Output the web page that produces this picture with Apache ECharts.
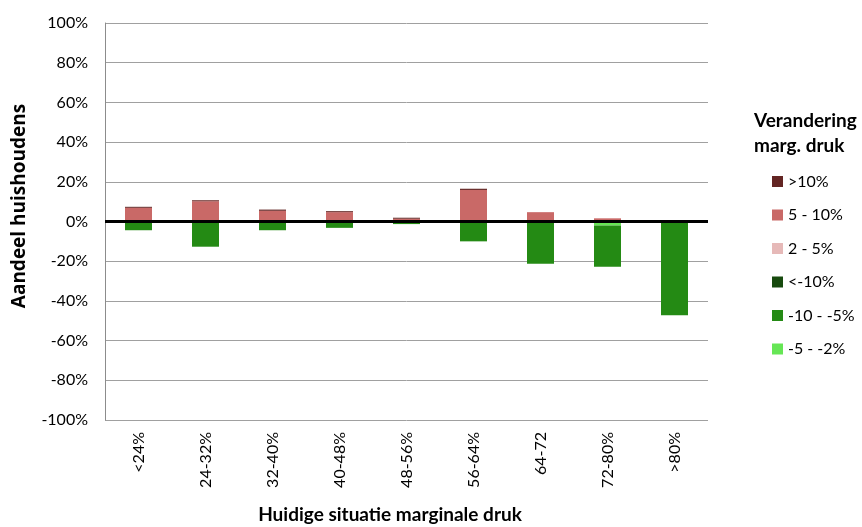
<!DOCTYPE html>
<html>
<head>
<meta charset="utf-8">
<script src="https://cdn.jsdelivr.net/npm/echarts@6/dist/echarts.min.js"></script>
<style>html,body{margin:0;padding:0;background:#fff}#c{width:862px;height:527px}</style>
</head>
<body>
<div id="c"></div>
<script>
const categories = ['<24%','24-32%','32-40%','40-48%','48-56%','56-64%','64-72','72-80%','>80%'];
const seriesNames = ['>10%','5 - 10%','2 - 5%','<-10%','-10 - -5%','-5 - -2%'];
const vGt10   = [0.5, 0.5, 0.6, 0.5, 0.5, 0.6, 0, 0, 0];
const v5to10  = [6.9, 10.2, 5.4, 4.7, 1.4, 15.9, 4.7, 1.6, 0];
const v2to5   = [0, 0, 0, 0, 0, 0, 0, 0, 0];
const vLtM10  = [0, 0, 0, 0, 0, 0, 0, 0, 0];
const vM10toM5 = [-4.4, -12.7, -4.4, -3.2, -1.3, -10.0, -21.3, -20.8, -47.2];
const vM5toM2 = [0, 0, 0, 0, 0, 0, 0, -2.0, 0];
const yTicks = [-100, -80, -60, -40, -20, 0, 20, 40, 60, 80, 100];

const colors = {
  '>10%': '#632523',
  '5 - 10%': '#c96967',
  '2 - 5%': '#e6b9b8',
  '<-10%': '#174a0e',
  '-10 - -5%': '#248a14',
  '-5 - -2%': '#66e655'
};
const FONT = 'Lato';

function bar(name, data) {
  return {
    name: name, type: 'bar', stack: 'total', data: data, barWidth: 27,
    itemStyle: { color: colors[name] }
  };
}

const chart = echarts.init(document.getElementById('c'), null, { renderer: 'canvas' });
const series = [
  bar('-5 - -2%', vM5toM2),
  bar('-10 - -5%', vM10toM5),
  bar('<-10%', vLtM10),
  bar('2 - 5%', v2to5),
  bar('5 - 10%', v5to10),
  bar('>10%', vGt10)
];
series[5].markLine = {
  silent: true, symbol: 'none', label: { show: false },
  lineStyle: { color: '#000', width: 3, type: 'solid' },
  data: [{ yAxis: 0 }]
};

chart.setOption({
  animation: false,
  textStyle: { fontFamily: FONT },
  grid: { left: 105, right: 154, top: 23, bottom: 107, containLabel: false },
  xAxis: {
    type: 'category', data: categories,
    axisLine: { show: false },
    axisTick: { show: false },
    axisLabel: { rotate: 90, margin: 12, fontSize: 16, color: '#000', fontFamily: FONT }
  },
  yAxis: {
    type: 'value', min: yTicks[0], max: yTicks[yTicks.length - 1], interval: 20,
    axisLine: { show: true, lineStyle: { color: '#8c8c8c', width: 1 } },
    axisTick: { show: false },
    splitLine: { show: true, lineStyle: { color: '#a0a0a0', width: 1 } },
    axisLabel: { formatter: v => v + '%', fontSize: 16, color: '#000', margin: 17, fontFamily: FONT }
  },
  legend: {
    orient: 'vertical', left: 767, top: 167,
    data: seriesNames,
    icon: 'rect', itemWidth: 11, itemHeight: 11, itemGap: 14.5,
    textStyle: { fontSize: 16, color: '#000', fontFamily: FONT, lineHeight: 19 }
  },
  graphic: [
    { type: 'text', x: 754, y: 121, style: { text: 'Verandering', font: 'bold 19px ' + FONT, fill: '#000', verticalAlign: 'middle' } },
    { type: 'text', x: 754, y: 146, style: { text: 'marg. druk', font: 'bold 19px ' + FONT, fill: '#000', verticalAlign: 'middle' } },
    { type: 'text', x: 20, y: 206, rotation: Math.PI / 2, style: { text: 'Aandeel huishoudens', font: 'bold 19px "Open Sans"', fill: '#000', align: 'center', verticalAlign: 'middle' } },
    { type: 'text', x: 390, y: 515, style: { text: 'Huidige situatie marginale druk', font: 'bold 19px ' + FONT, fill: '#000', align: 'center', verticalAlign: 'middle' } }
  ],
  series: series
});
</script>
</body>
</html>
